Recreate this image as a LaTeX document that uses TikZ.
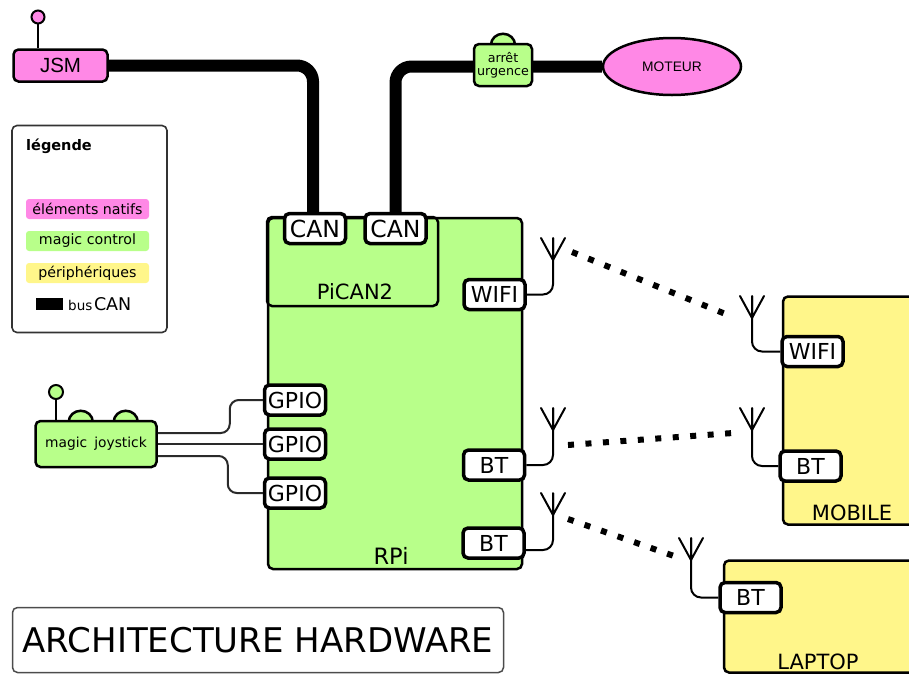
\documentclass[tikz,border=0pt]{standalone}
\usepackage{fontspec}
\setmainfont{DejaVu Sans}
\newfontfamily\arialfont{Liberation Sans}
\usetikzlibrary{shapes.geometric,backgrounds,calc}

\definecolor{natif}{HTML}{FF88E6}
\definecolor{magic}{HTML}{B8FF8A}
\definecolor{periph}{HTML}{FFF68A}
\definecolor{wiregray}{HTML}{2A2A2A}

\tikzset{
  unit/.style={draw, line width=2.5, rounded corners=5, inner sep=0},
  port/.style={draw, fill=white, line width=3.5, rounded corners=5, inner sep=0,
    minimum width=61, minimum height=30, font=\fontsize{22}{22}\selectfont},
  canport/.style={port, font=\fontsize{23.5}{23.5}\selectfont},
  bigtext/.style={inner sep=0, font=\fontsize{21}{21}\selectfont},
  bus/.style={line width=12, rounded corners=16},
  aerialline/.style={line width=2, line cap=round},
  feed/.style={line width=2, rounded corners=10},
  radio/.style={line width=6, dash pattern=on 6 off 11.5},
  jwire/.style={draw=wiregray, line width=2, rounded corners=9},
  legendkey/.style={rounded corners=3, minimum width=123, minimum height=20,
    inner sep=0, font=\fontsize{14.2}{14.2}\selectfont},
  stub/.style={line width=2},
  dome/.style={line width=2.5},
  aerial/.pic={\draw[aerialline] (-12,0) -- (0,22) -- (12,0) (0,0) -- (0,22);}
}

\begin{document}
\begin{tikzpicture}[x=1pt, y=-1pt]
\useasboundingbox (0,0) rectangle (909,675);
\clip (0,0) rectangle (909,675);

% ---------- legend ----------
\node[draw=black!80, line width=1.6, rounded corners=5, minimum width=155,
      minimum height=207, inner sep=0] (legend) at (89.5,229) {};
\node[anchor=west, inner sep=0, font=\bfseries\fontsize{14.5}{14.5}\selectfont] (legtitle) at (26,146) {légende};
\node[legendkey, fill=natif] (kn) at (87.5,209) {éléments natifs};
\node[legendkey, fill=magic] (km) at (87.5,241) {magic control};
\node[legendkey, fill=periph] (kp) at (87.5,273) {périphériques};
\node[fill=black, minimum width=27, minimum height=12, inner sep=0] (kbus) at (49.5,304) {};
\node[anchor=west, inner sep=0] (kbuslbl) at (68,304)
  {{\fontsize{13.5}{13.5}\selectfont bus}\,{\fontsize{17.5}{17.5}\selectfont CAN}};

% ---------- native elements on the CAN bus ----------
\node[unit, fill=natif, minimum width=94, minimum height=32,
      font=\arialfont\fontsize{20.5}{20.5}\selectfont] (jsm) at (60.5,65.5) {JSM};
\coordinate (jsmtip) at (38,17);
\draw[stub] (jsm.north -| jsmtip) -- (jsmtip);
\draw[stub, fill=natif] (jsmtip) circle (6.5);

\node[unit, fill=magic, minimum width=58, minimum height=42, align=center,
      font=\fontsize{12.7}{13.5}\selectfont] (arret) at (503,65) {arrêt\\urgence};
\node[ellipse, draw, line width=2.5, fill=natif, minimum width=138, minimum height=57,
      inner sep=0, font=\arialfont\fontsize{13.8}{13.8}\selectfont] (moteur) at (672,66.5) {MOTEUR};

% ---------- Raspberry Pi ----------
\node[unit, fill=magic, minimum width=254, minimum height=351] (rpi) at (395,393.5) {};
\node[bigtext, font=\fontsize{22.5}{22.5}\selectfont] (rpilbl) at (391,556) {RPi};
\node[unit, minimum width=171, minimum height=89] (pican) at (352.5,261.5) {};
\node[bigtext] (picanlbl) at (355,292) {PiCAN2};

\node[canport] (can1) at (315,228.5) {CAN};
\node[canport] (can2) at (395.5,228.5) {CAN};
\node[port] (wifi) at (494.5,294.5) {WIFI};
\node[port] (bt1) at (494,465) {BT};
\node[port] (bt2) at (493.5,543) {BT};
\node[port] (gpio1) at (295,400) {GPIO};
\node[port] (gpio2) at (295,444) {GPIO};
\node[port] (gpio3) at (295,493) {GPIO};

% ---------- joystick ----------
\node[unit, fill=magic, minimum width=121, minimum height=46,
      font=\fontsize{13.8}{13.8}\selectfont] (joy) at (96,444) {magic\hspace{7pt}joystick};
\coordinate (joytip) at (56,392);
\draw[stub] (joy.north -| joytip) -- (joytip);
\draw[stub, fill=magic] (joytip) circle (7);

\draw[jwire] ($(joy.east)+(0,-11)$) -- ++(72,0) |- (gpio1.west);
\draw[jwire] (joy.east) -- (gpio2.west);
\draw[jwire] ($(joy.east)+(0,12)$) -- ++(70,0) |- (gpio3.west);

% ---------- peripherals ----------
\node[unit, fill=periph, minimum width=150, minimum height=228] (mobile) at (858,410.5) {};
\node[bigtext] (mobilelbl) at (852,513) {MOBILE};
\node[port] (mwifi) at (812.5,351.5) {WIFI};
\node[port] (mbt) at (810.5,466) {BT};

\node[unit, fill=periph, minimum width=210, minimum height=112] (laptop) at (829,616.5) {};
\node[bigtext] (laptoplbl) at (818,662) {LAPTOP};
\node[port] (lbt) at (750.5,597.5) {BT};

% ---------- antennas and feeds ----------
\coordinate (a1) at (553,238);
\coordinate (a2) at (553,408);
\coordinate (a3) at (553,493);
\coordinate (a4) at (752,296);
\coordinate (a5) at (752,408);
\coordinate (a6) at (691,538);
\foreach \a in {a1,a2,a3,a4,a5,a6} {\pic at (\a) {aerial};}

\draw[feed] (wifi.east) -| (a1);
\draw[feed] (bt1.east) -| (a2);
\draw[feed] ($(bt2.east)+(0,7)$) -| (a3);
\draw[feed] (mwifi.west) -| (a4);
\draw[feed] (mbt.west) -| (a5);
\draw[feed] (lbt.west) -| (a6);

% radio links
\coordinate (r1s) at (572,252);
\coordinate (r1e) at (728,315);
\coordinate (r2s) at (568,445);
\coordinate (r2e) at (733,433);
\coordinate (r3s) at (568,519);
\coordinate (r3e) at (674,556);
\draw[radio] (r1s) -- (r1e);
\draw[radio] (r2s) -- (r2e);
\draw[radio] (r3s) -- (r3e);

% ---------- CAN bus and domes behind the boxes ----------
\begin{scope}[on background layer]
  \draw[bus] (jsm.east) -| ($(can1.north)+(-2,0)$);
  \draw[bus] (can2.north) |- (moteur.west);
  \draw[dome, fill=magic] ($(arret.north)+(-12,2)$)
    arc[start angle=180, end angle=360, x radius=12, y radius=11];
  \draw[dome, fill=magic] ($(joy.north west)+(34.5,2)$)
    arc[start angle=180, end angle=360, x radius=12, y radius=11];
  \draw[dome, fill=magic] ($(joy.north west)+(79.5,2)$)
    arc[start angle=180, end angle=360, x radius=12, y radius=11];
\end{scope}

% ---------- title ----------
\node[draw=black!70, line width=1.5, rounded corners=5, minimum width=491,
      minimum height=65, font=\fontsize{34}{34}\selectfont] (title) at (258,640) {ARCHITECTURE HARDWARE};
\end{tikzpicture}
\end{document}
